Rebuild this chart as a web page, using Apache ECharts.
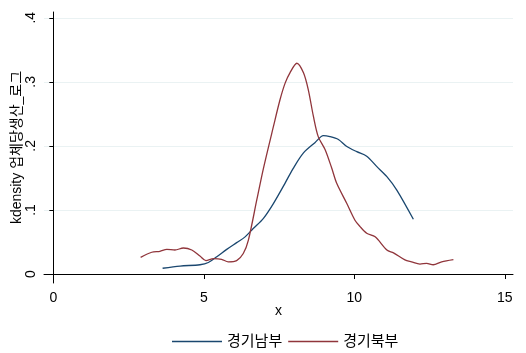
<!DOCTYPE html>
<html>
<head>
<meta charset="utf-8">
<script src="https://cdn.jsdelivr.net/npm/echarts@6/dist/echarts.min.js"></script>
<style>
  html, body { margin: 0; padding: 0; background: #fff; }
  #chart { width: 526px; height: 353px; }
</style>
</head>
<body>
<div id="chart"></div>
<script>
// 경기남부 kdensity
var southX = [3.63, 4.21, 4.87, 5.15, 5.43, 5.76, 6.09, 6.37, 6.64, 6.98, 7.31, 7.70, 7.97, 8.31, 8.69, 8.97, 9.19, 9.47, 9.75, 10.08, 10.41, 10.74, 11.08, 11.41, 11.96]
var southY = [.009, .0125, .0145, .018, .027, .0385, .049, .058, .071, .087, .11, .142, .165, .189, .205, .216, .2145, .21, .199, .191, .184, .168, .152, .131, .0855]
// 경기북부 kdensity
var northX = [2.9, 3.27, 3.54, 3.77, 4.04, 4.32, 4.6, 4.87, 5.07, 5.32, 5.59, 5.81, 6.09, 6.31, 6.48, 6.76, 6.98, 7.31, 7.53, 7.70, 7.86, 8.09, 8.31, 8.47, 8.64, 8.80, 9.03, 9.25, 9.41, 9.75, 10.02, 10.19, 10.41, 10.69, 11.08, 11.3, 11.68, 11.9, 12.18, 12.4, 12.62, 12.9, 13.29]
var northY = [.026, .034, .0355, .0385, .0375, .0406, .0375, .028, .021, .024, .023, .019, .021, .032, .053, .116, .165, .23, .272, .298, .314, .329, .314, .2875, .246, .2145, .194, .165, .142, .11, .084, .074, .0636, .058, .0375, .033, .022, .019, .0156, .0167, .0145, .019, .0224]

var xTicks = [0, 5, 10, 15]
var yTicks = [0, .1, .2, .3, .4]
var seriesNames = ['경기남부', '경기북부']

var font = 'Arial, "Liberation Sans", "Noto Sans CJK KR", sans-serif'

function pairs(xs, ys) {
  return xs.map(function (x, i) { return [x, ys[i]] })
}

var option = {
  animation: false,
  backgroundColor: '#fff',
  color: ['#1a476f', '#90353b'],
  grid: { left: 44, right: 13, top: 12, bottom: 70, containLabel: false, outerBoundsMode: 'none' },
  legend: {
    data: seriesNames,
    left: 167,
    top: 329,
    icon: 'rect',
    itemWidth: 50,
    itemHeight: 1.5,
    itemGap: 6,
    textStyle: { fontFamily: font, fontSize: 15, color: '#000' }
  },
  xAxis: {
    type: 'value',
    min: -0.31,
    max: 15.27,
    name: 'x',
    nameLocation: 'middle',
    nameGap: 21,
    nameMoveOverlap: false,
    nameTextStyle: { fontFamily: font, fontSize: 14, color: '#000' },
    axisLine: { lineStyle: { color: '#000', width: 1 } },
    axisTick: { show: true, length: 5, customValues: xTicks, lineStyle: { color: '#000' } },
    axisLabel: { customValues: xTicks, fontFamily: font, fontSize: 14, color: '#000', margin: 8 },
    splitLine: { show: false }
  },
  yAxis: {
    type: 'value',
    min: -0.014,
    max: 0.409,
    name: 'kdensity 업체당생산_로그',
    nameLocation: 'middle',
    nameGap: 20,
    nameRotate: 90,
    nameMoveOverlap: false,
    nameTextStyle: { fontFamily: font, fontSize: 14, color: '#000' },
    axisLine: { show: true, lineStyle: { color: '#000', width: 1 } },
    axisTick: { show: true, length: 4, customValues: yTicks, lineStyle: { color: '#000' } },
    axisLabel: {
      customValues: yTicks,
      rotate: 90,
      margin: 6,
      fontFamily: font,
      fontSize: 14,
      color: '#000',
      formatter: function (v) {
        return v === 0 ? '0' : String(Math.round(v * 10) / 10).replace(/^0/, '')
      }
    },
    splitLine: { show: true, lineStyle: { color: '#eaf2f3', width: 1 } }
  },
  series: [
    {
      name: seriesNames[0],
      type: 'line',
      data: pairs(southX, southY),
      smooth: 0.3,
      symbol: 'none',
      lineStyle: { width: 1.3 }
    },
    {
      name: seriesNames[1],
      type: 'line',
      data: pairs(northX, northY),
      smooth: 0.3,
      symbol: 'none',
      lineStyle: { width: 1.3 }
    }
  ]
}

var myChart = echarts.init(document.getElementById('chart'))
myChart.setOption(option)
</script>
</body>
</html>
